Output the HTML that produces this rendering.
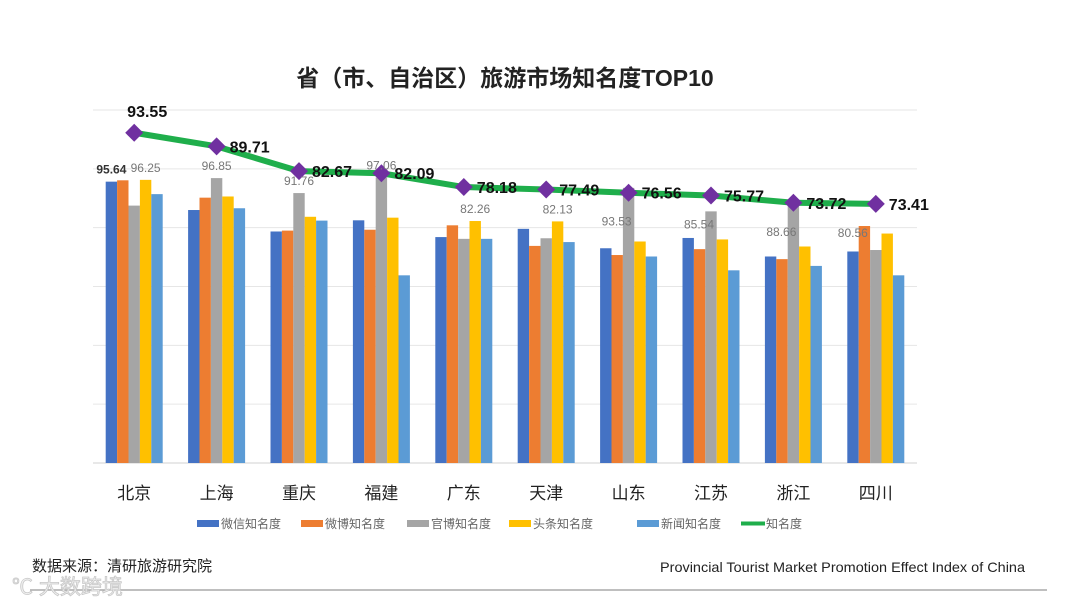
<!DOCTYPE html>
<html><head><meta charset="utf-8">
<style>
html,body{margin:0;padding:0;background:#fff;}
svg{display:block;font-family:"Liberation Sans","Noto Sans CJK SC",sans-serif;}
</style></head>
<body>
<svg id="chart" width="1080" height="608" viewBox="0 0 1080 608">
<text x="505" y="86" text-anchor="middle" font-size="23" font-weight="bold" fill="#222">省（市、自治区）旅游市场知名度TOP10</text>
<g id="grid"></g><g id="bars"></g><g id="line"></g><g id="labels"></g><g id="xaxis"></g>
<g id="legend"></g>
<text x="32" y="571" font-size="15" fill="#222">数据来源：清研旅游研究院</text>
<text x="660" y="572" font-size="14" fill="#222" textLength="365" lengthAdjust="spacingAndGlyphs">Provincial Tourist Market Promotion Effect Index of China</text>
<line x1="30" y1="590" x2="1047" y2="590" stroke="#999" stroke-width="1.2"/>
<text x="12" y="594" font-size="21" fill="#f0f0f0" stroke="#c8c8c8" stroke-width="0.8">℃ 大数跨境</text>
</svg>
<script>
const categories=["北京","上海","重庆","福建","广东","天津","山东","江苏","浙江","四川"];
const seriesNames=["微信知名度","微博知名度","官博知名度","头条知名度","新闻知名度"];
const wechat=[95.64,86.0,78.7,82.5,76.8,79.6,73.0,76.5,70.2,71.9];
const weibo=[96.1,90.2,79.0,79.3,80.8,73.8,70.7,72.7,69.3,80.56];
const official=[87.5,96.85,91.76,97.06,76.2,76.4,93.53,85.54,88.66,72.4];
const toutiao=[96.25,90.6,83.7,83.4,82.26,82.13,75.3,76.0,73.6,78.0];
const news=[91.4,86.6,82.4,63.8,76.2,75.1,70.2,65.5,67.0,63.8];
const fame=[93.55,89.71,82.67,82.09,78.18,77.49,76.56,75.77,73.72,73.41];
const barLabels=[[0,0,"95.64"],[0,3,"96.25"],[1,2,"96.85"],[2,2,"91.76"],[3,2,"97.06"],[4,3,"82.26"],[5,3,"82.13"],[6,2,"93.53"],[7,2,"85.54"],[8,2,"88.66"],[9,1,"80.56"]];
const NS="http://www.w3.org/2000/svg";
const colors=["#4472c4","#ed7d31","#a5a5a5","#ffc000","#5b9bd5"];
const series=[wechat,weibo,official,toutiao,news];
const X0=93,X1=917,Y0=463,YT=110;
const step=(X1-X0)/categories.length,bw=11.4;
const yBar=v=>Y0-(v/120)*(Y0-YT);
const yLine=v=>Y0-(v/100)*(Y0-YT);
const cx=i=>X0+step*(i+0.5);
const bx=(i,s)=>cx(i)-bw*2.5+s*bw;
function mk(tag,attrs,parent){const e=document.createElementNS(NS,tag);for(const k in attrs)e.setAttribute(k,attrs[k]);document.getElementById(parent).appendChild(e);return e;}
for(let k=0;k<=6;k++){const y=Y0-k*(Y0-YT)/6;const l=mk("line",{x1:X0,x2:X1,y1:y,y2:y,stroke:k==0?"#d0d0d0":"#e6e6e6","stroke-width":1},"grid");

}
series.forEach((arr,s)=>arr.forEach((v,i)=>{const r=mk("rect",{x:bx(i,s),y:yBar(v),width:bw,height:Y0-yBar(v),fill:colors[s]},"bars");

}));
barLabels.forEach(([i,s,t])=>{const v=series[s][i];let x=bx(i,s)+bw/2,y=yBar(v)-8;
if(i>=6){y=Math.max(y,yLine(fame[i])+33);x-=(i==9?0:12);}
if(i==9){x=cx(i)-23;}
const tx=mk("text",{x:x,y:y,"text-anchor":"middle","font-size":12,fill:(i==0&&s==0)?"#333":"#777","font-weight":(i==0&&s==0)?"bold":"normal"},"labels");tx.textContent=t;

});
const pts=fame.map((v,i)=>cx(i)+","+yLine(v)).join(" ");
const pl=mk("polyline",{points:pts,fill:"none",stroke:"#1fae4b","stroke-width":6,"stroke-linejoin":"round"},"line");


fame.forEach((v,i)=>{const x=cx(i),y=yLine(v);const d=mk("polygon",{points:`${x},${y-9} ${x+9},${y} ${x},${y+9} ${x-9},${y}`,fill:"#7030a0"},"line");


const t=mk("text",i==0?{x:x+13,y:y-16,"text-anchor":"middle"}:{x:x+13,y:y+6},"labels");t.setAttribute("font-size","16");t.setAttribute("font-weight","bold");t.setAttribute("fill","#111");t.textContent=v.toFixed(2);

});
categories.forEach((c,i)=>{const t=mk("text",{x:cx(i),y:499,"text-anchor":"middle","font-size":17,fill:"#222"},"xaxis");t.textContent=c;

});
const legX=[197,301,407,509,637];
seriesNames.forEach((n,s)=>{const r=mk("rect",{x:legX[s],y:520,width:22,height:7,fill:colors[s]},"legend");


const t=mk("text",{x:legX[s]+24,y:528,"font-size":12,fill:"#666"},"legend");t.textContent=n;

});
const ll=mk("line",{x1:741,x2:765,y1:523.5,y2:523.5,stroke:"#1fae4b","stroke-width":4},"legend");


const lt=mk("text",{x:766,y:528,"font-size":12,fill:"#666"},"legend");lt.textContent="知名度";


</script>
</body></html>
